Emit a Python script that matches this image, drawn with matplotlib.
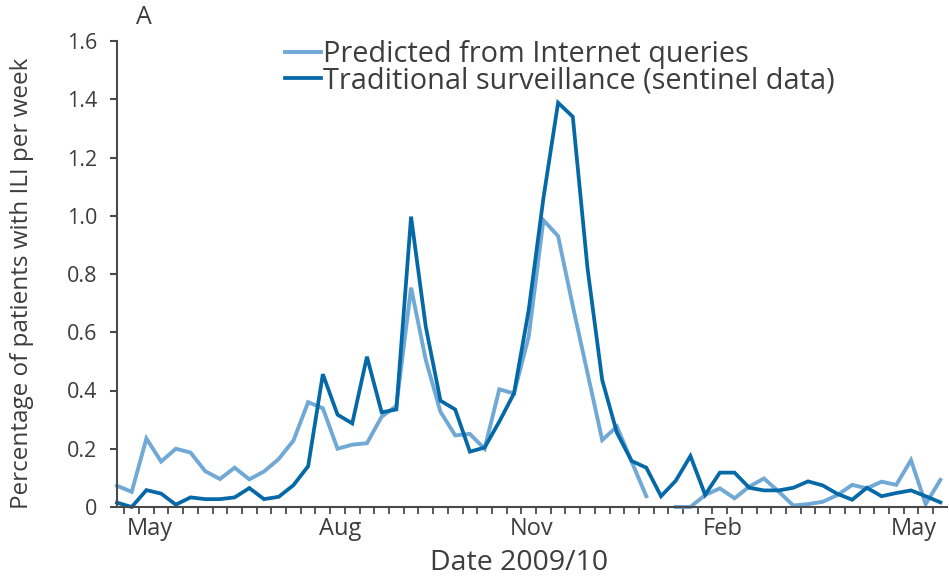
import numpy as np
import matplotlib
matplotlib.use("Agg")
import matplotlib.pyplot as plt

plt.rcParams['font.family'] = ['Open Sans', 'DejaVu Sans']

# weekly ILI rate (% of patients), week 0 = late April 2009
sentinel = [0.015, 0.0, 0.058, 0.046, 0.008, 0.033, 0.027, 0.027, 0.033, 0.065,
            0.027, 0.035, 0.075, 0.14, 0.456, 0.317, 0.287, 0.516, 0.325, 0.335,
            0.997, 0.619, 0.365, 0.335, 0.19, 0.204, 0.293, 0.39, 0.676, 1.06,
            1.388, 1.34, 0.82, 0.436, 0.255, 0.158, 0.135, 0.037, 0.09, 0.175,
            0.042, 0.118, 0.118, 0.066, 0.057, 0.057, 0.066, 0.088, 0.074, 0.045,
            0.025, 0.066, 0.037, 0.048, 0.057, 0.037, 0.016]

predicted = [0.073, 0.052, 0.235, 0.156, 0.2, 0.187, 0.123, 0.096, 0.135, 0.095,
             0.122, 0.165, 0.228, 0.36, 0.339, 0.2, 0.214, 0.219, 0.31, 0.347,
             0.753, 0.505, 0.327, 0.246, 0.251, 0.2, 0.404, 0.39, 0.585, 0.985,
             0.93, 0.69, 0.46, 0.23, 0.276, 0.156, 0.037, np.nan, 0.0, 0.0,
             0.041, 0.064, 0.03, 0.07, 0.098, 0.053, 0.005, 0.01, 0.018, 0.041,
             0.076, 0.064, 0.087, 0.076, 0.161, 0.01, 0.093]

month_labels = ["May", "Aug", "Nov", "Feb", "May"]
month_weeks = [2.2, 15.2, 28.2, 41.2, 54.2]
y_ticks = [0, 0.2, 0.4, 0.6, 0.8, 1.0, 1.2, 1.4, 1.6]
y_labels = ["0", "0.2", "0.4", "0.6", "0.8", "1.0", "1.2", "1.4", "1.6"]

LIGHT = "#70a8d6"
DARK = "#0568a7"
INK = "#3d3d3d"

W, H = 949, 576
fig = plt.figure(figsize=(W / 100, H / 100), dpi=100)
ax = fig.add_axes([117 / W, 69 / H, 830 / W, 466 / H])

weeks = np.arange(len(sentinel))
ax.plot(weeks, predicted, color=LIGHT, lw=2.8, solid_joinstyle='miter',
        clip_on=False, label="Predicted from Internet queries")
ax.plot(weeks, sentinel, color=DARK, lw=2.7, solid_joinstyle='miter',
        clip_on=False, label="Traditional surveillance (sentinel data)")

ax.set_xlim(0, 56.45)
ax.set_ylim(0, 1.6)

for side in ("top", "right"):
    ax.spines[side].set_visible(False)
for side in ("left", "bottom"):
    ax.spines[side].set_color("#4a4a4a")
    ax.spines[side].set_linewidth(1.5)

ax.set_yticks(y_ticks)
ax.set_yticklabels(y_labels)
ax.tick_params(axis='y', length=5, width=1.5, color="#4a4a4a", pad=9,
               labelsize=15.5, labelcolor=INK)

ax.set_xticks(month_weeks)
ax.set_xticklabels(month_labels)
ax.set_xticks(np.arange(0.5, 56, 1.0), minor=True)
ax.tick_params(axis='x', which='major', length=0, pad=7, labelsize=17,
               labelcolor=INK)
ax.tick_params(axis='x', which='minor', length=5, width=1.3, color="#4a4a4a")

fig.text(22 / W, 1 - 283 / H, "Percentage of patients with ILI per week",
         rotation=90, ha='center', va='center', fontsize=17.5, color=INK)
fig.text(519 / W, 1 - 563 / H, "Date 2009/10", ha='center', va='center',
         fontsize=20.5, color=INK)
fig.text(144 / W, 1 - 18 / H, "A", ha='center', va='center', fontsize=18,
         color=INK)

fig.legend(loc='upper left', bbox_to_anchor=(285 / W, 1 - 40 / H),
           frameon=False, fontsize=20.8, labelcolor=INK, handlelength=1.25,
           handletextpad=0.07, labelspacing=-0.1, borderpad=0,
           borderaxespad=0)

fig.savefig("out.png", dpi=100)
